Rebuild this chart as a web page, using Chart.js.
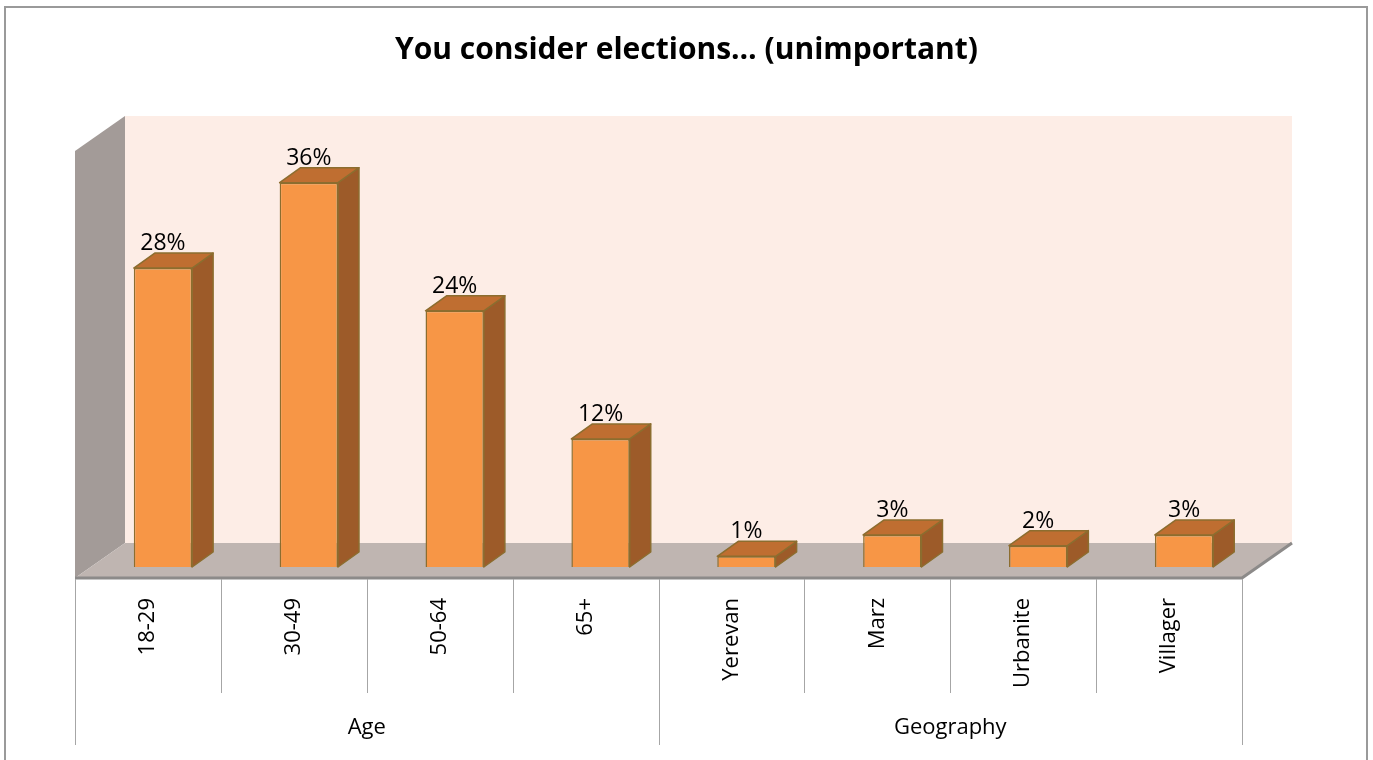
<!DOCTYPE html>
<html>
<head>
<meta charset="utf-8">
<title>You consider elections… (unimportant)</title>
<script src="https://cdn.jsdelivr.net/npm/chart.js@4.4.1/dist/chart.umd.min.js"></script>
<style>
  html, body { margin: 0; padding: 0; background: #fff; }
  canvas { display: block; }
</style>
</head>
<body>
<canvas id="electionsChart" width="1373" height="760"></canvas>
<script>
// survey answers, in percent
const categories = ['18-29', '30-49', '50-64', '65+', 'Yerevan', 'Marz', 'Urbanite', 'Villager'];
const shares = [28, 36, 24, 12, 1, 3, 2, 3];
const groupNames = ['Age', 'Geography'];
const groupSizes = [4, 4];
const titleText = 'You consider elections… (unimportant)';

const FONT = '"Open Sans", "Noto Sans", sans-serif';

// depth of the 3D box and where the bars sit inside it
const DEPTH_X = 50, DEPTH_Y = 35;
const BAR_OFF_X = 15, BAR_OFF_Y = 11;
const BAR_DX = 21, BAR_DY = 15;

function poly(ctx, pts, fill, stroke, lw) {
  ctx.beginPath();
  ctx.moveTo(pts[0][0], pts[0][1]);
  for (let i = 1; i < pts.length; i++) ctx.lineTo(pts[i][0], pts[i][1]);
  ctx.closePath();
  if (fill) { ctx.fillStyle = fill; ctx.fill(); }
  if (stroke) { ctx.strokeStyle = stroke; ctx.lineWidth = lw || 1; ctx.stroke(); }
}

const box3d = {
  id: 'box3d',
  beforeDraw(chart) {
    const { ctx, chartArea: a, width } = chart;
    ctx.save();
    ctx.fillStyle = '#fff';
    ctx.fillRect(0, 0, width, chart.height);

    // outer frame
    ctx.strokeStyle = '#9a9a9a';
    ctx.lineWidth = 2;
    ctx.strokeRect(5, 7, 1362, 800);

    // title
    ctx.fillStyle = '#000';
    ctx.font = 'bold 30px ' + FONT;
    ctx.textAlign = 'center';
    ctx.textBaseline = 'middle';
    ctx.fillText(titleText, width / 2, 50);

    // back wall
    poly(ctx, [[a.left + DEPTH_X, a.top - DEPTH_Y], [a.right + DEPTH_X, a.top - DEPTH_Y],
               [a.right + DEPTH_X, a.bottom - DEPTH_Y], [a.left + DEPTH_X, a.bottom - DEPTH_Y]], '#fdede6');
    // side wall
    poly(ctx, [[a.left, a.top], [a.left + DEPTH_X, a.top - DEPTH_Y],
               [a.left + DEPTH_X, a.bottom - DEPTH_Y], [a.left, a.bottom]], '#a39b98');
    // floor
    poly(ctx, [[a.left, a.bottom], [a.left + DEPTH_X, a.bottom - DEPTH_Y],
               [a.right + DEPTH_X, a.bottom - DEPTH_Y], [a.right, a.bottom]], '#bfb5b1');
    ctx.strokeStyle = '#8c8a89';
    ctx.lineWidth = 3;
    ctx.beginPath();
    ctx.moveTo(a.left, a.bottom);
    ctx.lineTo(a.right, a.bottom);
    ctx.lineTo(a.right + DEPTH_X, a.bottom - DEPTH_Y);
    ctx.stroke();
    ctx.restore();
  },
  beforeDatasetsDraw(chart) {
    chart.ctx.save();
    chart.ctx.translate(BAR_OFF_X, -BAR_OFF_Y);
  },
  afterDatasetsDraw(chart) {
    const { ctx, chartArea: a } = chart;
    ctx.restore();
    ctx.save();
    const meta = chart.getDatasetMeta(0);
    meta.data.forEach((bar, i) => {
      const L = bar.x - bar.width / 2 + BAR_OFF_X;
      const R = bar.x + bar.width / 2 + BAR_OFF_X;
      const T = bar.y - BAR_OFF_Y;
      const B = bar.base - BAR_OFF_Y;
      ctx.lineJoin = 'round';
      poly(ctx, [[R, T], [R + BAR_DX, T - BAR_DY], [R + BAR_DX, B - BAR_DY], [R, B]], '#9d5b29', '#8c6d2f', 1.5);
      poly(ctx, [[L, T], [L + BAR_DX, T - BAR_DY], [R + BAR_DX, T - BAR_DY], [R, T]], '#bf6e31', '#8c6d2f', 1.5);

      ctx.fillStyle = '#000';
      ctx.font = '23px ' + FONT;
      ctx.textAlign = 'center';
      ctx.textBaseline = 'alphabetic';
      ctx.fillText(shares[i] + '%', bar.x + BAR_OFF_X, T - BAR_DY - 3);
    });

    // category axis: separators, rotated labels, group labels
    const x = chart.scales.x;
    const step = x.getPixelForValue(1) - x.getPixelForValue(0);
    const edge = i => x.getPixelForValue(i) - step / 2;
    ctx.strokeStyle = '#a6a6a6';
    ctx.lineWidth = 1;
    const groupEdges = [0];
    groupSizes.reduce((s, n) => { groupEdges.push(s + n); return s + n; }, 0);
    for (let i = 0; i <= categories.length; i++) {
      const px = Math.round(edge(i)) + 0.5;
      const long = groupEdges.includes(i);
      ctx.beginPath();
      ctx.moveTo(px, a.bottom + 1);
      ctx.lineTo(px, long ? 745 : 693);
      ctx.stroke();
    }
    ctx.fillStyle = '#000';
    ctx.font = '22px ' + FONT;
    categories.forEach((c, i) => {
      ctx.save();
      ctx.translate(x.getPixelForValue(i), a.bottom + 20);
      ctx.rotate(-Math.PI / 2);
      ctx.textAlign = 'right';
      ctx.textBaseline = 'middle';
      ctx.fillText(c, 0, 0);
      ctx.restore();
    });
    ctx.textAlign = 'center';
    ctx.textBaseline = 'middle';
    ctx.font = '22px ' + FONT;
    groupNames.forEach((g, k) => {
      const cx = (edge(groupEdges[k]) + edge(groupEdges[k + 1])) / 2;
      ctx.fillText(g, cx, 728);
    });
    ctx.restore();
  }
};

new Chart(document.getElementById('electionsChart'), {
  type: 'bar',
  data: {
    labels: categories,
    datasets: [{
      data: shares,
      backgroundColor: '#f79646',
      borderColor: '#8c6d2f',
      borderWidth: 1.5,
      categoryPercentage: 1,
      barPercentage: 0.4
    }]
  },
  options: {
    responsive: false,
    devicePixelRatio: 1,
    animation: false,
    layout: { padding: { left: 75, right: 131, top: 151, bottom: 182 } },
    scales: {
      x: { display: false },
      y: { display: false, min: 0, max: 40 }
    },
    plugins: {
      legend: { display: false },
      title: { display: false },
      tooltip: { enabled: false }
    }
  },
  plugins: [box3d]
});
</script>
</body>
</html>
